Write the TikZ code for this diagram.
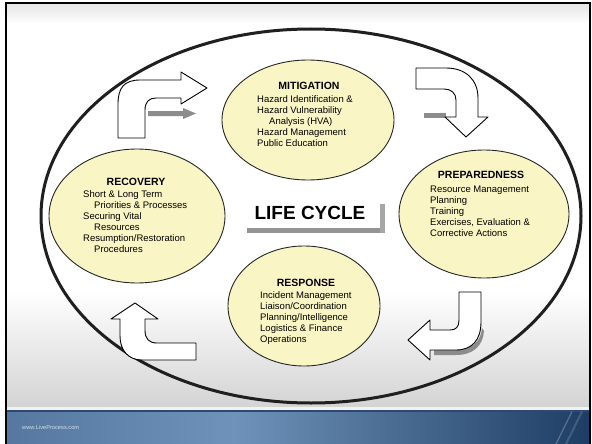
\documentclass[tikz,border=0pt]{standalone}
\usepackage{fontspec}
\setmainfont{Liberation Sans}
\usetikzlibrary{shapes.geometric}
\definecolor{phasefill}{HTML}{F9F5C4}
\definecolor{banL}{HTML}{5678A0}
\definecolor{banM}{HTML}{6E92B9}
\definecolor{banR}{HTML}{1E3D64}
\definecolor{banTop}{HTML}{2C4A70}
\definecolor{banText}{HTML}{D3DEEB}
\begin{document}
\begin{tikzpicture}[x=1pt,y=-1pt,
  phase/.style={ellipse, draw=black!85, line width=0.9pt, fill=phasefill, inner sep=0pt},
  head/.style={font=\fontsize{10.5}{12}\selectfont\bfseries, inner sep=0pt},
  body/.style={font=\fontsize{9.5}{11}\selectfont, align=left, inner sep=0pt, anchor=north west},
  blockarrow/.style={draw=black, line width=0.9pt, fill=white, line join=round},
  arrowshadow/.style={fill=black!45},
]
\useasboundingbox (0,0) rectangle (592,444);

% slide background with soft grey fades at top and bottom
\fill[white] (0,0) rectangle (592,444);
\shade[top color=black!10, bottom color=white] (6,4) rectangle (590,24);
\shade[top color=white, bottom color=black!17] (6,290) rectangle (590,407);
\fill[black!5] (6,407) rectangle (590,410);

% footer banner
\shade[left color=banL, right color=banM] (6,410) rectangle (236,444);
\shade[left color=banM, right color=banR] (235,410) rectangle (590,444);
\fill[banTop] (6,410) rectangle (590,411.5);
\draw[white, opacity=0.25, line width=1.2pt] (556,444) -- (572,411.5);
\draw[white, opacity=0.15, line width=2pt] (566,444) -- (582,411.5);
\node[font=\fontsize{5.7}{6}\selectfont, text=banText, anchor=west, inner sep=0pt] (url) at (22,427) {www.LiveProcess.com};

% slide frame
\draw[black, line width=2pt] (6,446) -- (6,3) -- (590,3) -- (590,446);

% outer cycle
\node[ellipse, draw=black!88, line width=3pt, minimum width=540pt, minimum height=374pt, inner sep=0pt] (cycle) at (311,216) {};

% the four phases
\node[phase, minimum width=172pt, minimum height=120pt] (mit) at (308,120) {};
\node[phase, minimum width=170pt, minimum height=128pt] (prep) at (484,214) {};
\node[phase, minimum width=152pt, minimum height=120pt] (resp) at (304,306) {};
\node[phase, minimum width=176pt, minimum height=134pt] (rec) at (137,216) {};

\node[head] (mitT) at (309,86) {MITIGATION};
\node[body] (mitB) at (257,95.5) {Hazard Identification \&\\Hazard Vulnerability\\\hspace{12pt}Analysis (HVA)\\Hazard Management\\Public Education};

\node[head] (prepT) at (481,175) {PREPAREDNESS};
\node[body] (prepB) at (430,185.5) {Resource Management\\Planning\\Training\\Exercises, Evaluation \&\\Corrective Actions};

\node[head] (respT) at (306,283) {RESPONSE};
\node[body] (respB) at (260,291.5) {Incident Management\\Liaison/Coordination\\Planning/Intelligence\\Logistics \& Finance\\Operations};

\node[head] (recT) at (136,182) {RECOVERY};
\node[body] (recB) at (83,190.5) {Short \& Long Term\\\hspace{11pt}Priorities \& Processes\\Securing Vital\\\hspace{11pt}Resources\\Resumption/Restoration\\\hspace{11pt}Procedures};

% centre title with its drop shadow
\fill[black!42] (247,228) rectangle (385,233);
\fill[black!35] (380,204) rectangle (385,233);
\node[font=\fontsize{19}{22}\selectfont\bfseries, inner sep=0pt] (lc) at (310,213) {LIFE CYCLE};

% bent block arrows between the phases
% recovery -> mitigation
\fill[arrowshadow] (148,111) -- (183,111) -- (183,108) -- (196,113.5) -- (183,119) -- (183,116) -- (148,116) -- cycle;
\draw[blockarrow] (118,138) -- (118,104) .. controls (118,88) and (124,80) .. (140,80) -- (181,80) -- (181,72) -- (207,88) -- (181,104) -- (181,98) -- (156,98) .. controls (149,98) and (145,102) .. (145,110) -- (145,138) -- cycle;

% mitigation -> preparedness
\fill[arrowshadow] (424,113) rectangle (446,118);
\draw[blockarrow] (416,68) -- (446,68) .. controls (466,68) and (478,80) .. (478,98) -- (478,117) -- (488,117) -- (466,137) -- (445,117) -- (456,117) -- (456,100) .. controls (456,93) and (451,89) .. (444,89) -- (416,89) -- cycle;

% preparedness -> response
\fill[arrowshadow] (434,350) -- (456,350) .. controls (472,350) and (481,341) .. (482,328) -- (484,331) .. controls (483,346) and (473,355) .. (456,355) -- (434,355) -- cycle;
\draw[blockarrow] (459,292) -- (481,292) -- (481,322) .. controls (481,340) and (472,350) .. (456,350) -- (430,350) -- (430,360) -- (408,340) -- (430,320) -- (430,330) -- (450,330) .. controls (456,330) and (459,327) .. (459,320) -- cycle;

% response -> recovery
\draw[blockarrow] (135,303) -- (158,319) -- (145,319) -- (145,330) .. controls (145,339) and (149,343) .. (157,343) -- (196,343) -- (196,360) -- (142,360) .. controls (128,360) and (120,350) .. (120,336) -- (120,319) -- (111,319) -- cycle;

\end{tikzpicture}
\end{document}
